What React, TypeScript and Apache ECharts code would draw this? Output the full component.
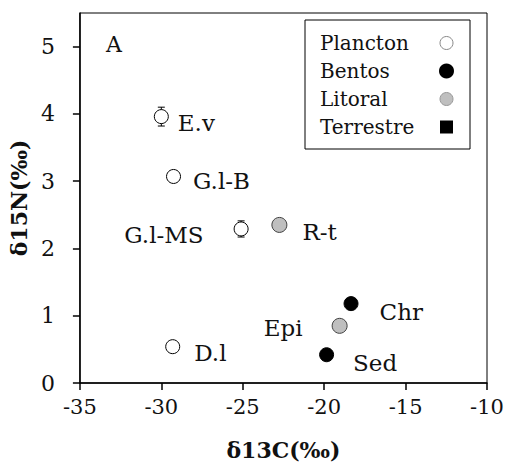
import React, { useEffect, useRef } from "react";
import * as echarts from "echarts";

// ---- data ----
const planctonNames = ["E.v", "G.l-B", "G.l-MS", "D.l"];
const planctonX = [-30.0, -29.25, -25.1, -29.3];
const planctonY = [3.96, 3.07, 2.29, 0.54];
const planctonErr = [0.14, 0, 0.12, 0];

const bentosNames = ["Chr", "Sed"];
const bentosX = [-18.35, -19.85];
const bentosY = [1.18, 0.42];

const litoralNames = ["R-t", "Epi"];
const litoralX = [-22.75, -19.05];
const litoralY = [2.35, 0.85];

const terrestreX: number[] = [];
const terrestreY: number[] = [];

const seriesNames = ["Plancton", "Bentos", "Litoral", "Terrestre"];
const yTicks = [0, 1, 2, 3, 4, 5];

// ---- label placement (styling) ----
const labelPlace: Record<string, { side: "left" | "right"; dist: number; dy: number }> = {
  "E.v": { side: "right", dist: 9, dy: 6 },
  "G.l-B": { side: "right", dist: 12, dy: 5 },
  "G.l-MS": { side: "left", dist: 30, dy: 6 },
  "D.l": { side: "right", dist: 14, dy: 6 },
  Chr: { side: "right", dist: 21, dy: 8 },
  Sed: { side: "right", dist: 19, dy: 8 },
  "R-t": { side: "right", dist: 15, dy: 7 },
  Epi: { side: "left", dist: 29, dy: 2 },
};

const FONT = '"DejaVu Serif", serif';
const TXT = "#111";

function points(names: string[], xs: number[], ys: number[]) {
  return names.map((n, i) => {
    const p = labelPlace[n];
    return {
      name: n,
      value: [xs[i], ys[i]],
      label: {
        show: true,
        formatter: n,
        position: p.side,
        distance: p.dist,
        offset: [0, p.dy],
        fontFamily: FONT,
        fontSize: 23,
        color: TXT,
      },
    };
  });
}

export default function App() {
  const ref = useRef<HTMLDivElement>(null);
  useEffect(() => {
    if (!ref.current) return;
    const chart = echarts.init(ref.current, undefined, { renderer: "svg" });
    const errData = planctonNames
      .map((n, i) => [planctonX[i], planctonY[i], planctonErr[i]])
      .filter((d) => d[2] > 0);

    chart.setOption({
      animation: false,
      backgroundColor: "#fff",
      title: {
        text: "A",
        left: 106,
        top: 33,
        padding: 0,
        textStyle: { fontFamily: FONT, fontSize: 22, fontWeight: "normal", color: TXT },
      },
      grid: {
        left: 79,
        right: 23,
        top: 13,
        bottom: 84,
        show: true,
        borderColor: "#000",
        borderWidth: 1,
      },
      legend: {
        data: [
          { name: "Plancton", itemStyle: { color: "#fff", borderColor: "#888", borderWidth: 1 } },
          { name: "Bentos" },
          { name: "Litoral", itemStyle: { color: "#bfbfbf", borderColor: "#999", borderWidth: 1 } },
          { name: "Terrestre" },
        ],
        orient: "vertical",
        left: 305,
        top: 20,
        align: "right",
        itemWidth: 13,
        itemHeight: 13,
        itemGap: 0,
        padding: [9, 16, 8, 15],
        borderColor: "#000",
        borderWidth: 1,
        backgroundColor: "#fff",
        selectedMode: false,
        formatter: (name: string) => `{t|${name}}`,
        textStyle: {
          lineHeight: 28,
          height: 28,
          rich: {
            t: {
              width: 115,
              height: 28,
              align: "left",
              fontFamily: FONT,
              fontSize: 20,
              lineHeight: 28,
              color: TXT,
            },
          },
        },
      },
      xAxis: {
        type: "value",
        min: -35,
        max: -10,
        interval: 5,
        name: "δ13C(‰)",
        nameLocation: "middle",
        nameGap: 56,
        nameTextStyle: { fontFamily: FONT, fontSize: 22, fontWeight: "bold", color: TXT },
        axisLine: { show: true, onZero: false, lineStyle: { color: "#000", width: 1.5 } },
        axisTick: { show: true, inside: false, length: 7, lineStyle: { color: "#000", width: 1.5 } },
        axisLabel: { fontFamily: FONT, fontSize: 21, color: TXT, margin: 13 },
        splitLine: { show: false },
      },
      yAxis: {
        type: "value",
        min: 0,
        max: 5.5,
        interval: 1,
        name: "δ15N(‰)",
        nameLocation: "middle",
        nameGap: 41,
        nameTextStyle: { fontFamily: FONT, fontSize: 22, fontWeight: "bold", color: TXT },
        axisLine: { show: true, onZero: false, lineStyle: { color: "#000", width: 1.5 } },
        axisTick: {
          show: true,
          inside: false,
          length: 7,
          customValues: yTicks,
          lineStyle: { color: "#000", width: 1.5 },
        },
        axisLabel: { fontFamily: FONT, fontSize: 22, color: TXT, margin: 25, customValues: yTicks },
        splitLine: { show: false },
      },
      series: [
        {
          name: "err",
          type: "custom",
          z: 1,
          silent: true,
          data: errData,
          renderItem: (params: any, api: any) => {
            const x = api.value(0);
            const y = api.value(1);
            const e = api.value(2);
            const top = api.coord([x, y + e]);
            const bot = api.coord([x, y - e]);
            const half = 3.5;
            const style = { stroke: "#000", lineWidth: 1 };
            return {
              type: "group",
              children: [
                { type: "line", shape: { x1: top[0], y1: top[1], x2: bot[0], y2: bot[1] }, style },
                { type: "line", shape: { x1: top[0] - half, y1: top[1], x2: top[0] + half, y2: top[1] }, style },
                { type: "line", shape: { x1: bot[0] - half, y1: bot[1], x2: bot[0] + half, y2: bot[1] }, style },
              ],
            };
          },
        },
        {
          name: "Plancton",
          type: "scatter",
          z: 2,
          symbol: "circle",
          symbolSize: 14,
          itemStyle: { color: "#fff", borderColor: "#000", borderWidth: 1, opacity: 1 },
          data: points(planctonNames, planctonX, planctonY),
        },
        {
          name: "Bentos",
          type: "scatter",
          z: 2,
          symbol: "circle",
          symbolSize: 14,
          itemStyle: { color: "#000", borderColor: "#000", borderWidth: 1, opacity: 1 },
          data: points(bentosNames, bentosX, bentosY),
        },
        {
          name: "Litoral",
          type: "scatter",
          z: 2,
          symbol: "circle",
          symbolSize: 15,
          itemStyle: { color: "#bfbfbf", borderColor: "#404040", borderWidth: 1, opacity: 1 },
          data: points(litoralNames, litoralX, litoralY),
        },
        {
          name: "Terrestre",
          type: "scatter",
          z: 2,
          symbol: "rect",
          symbolSize: 13,
          itemStyle: { color: "#000", opacity: 1 },
          data: terrestreX.map((x, i) => [x, terrestreY[i]]),
        },
      ],
    });
    return () => chart.dispose();
  }, []);

  return <div ref={ref} style={{ width: 510, height: 467, position: "absolute", left: 0, top: 0 }} />;
}
